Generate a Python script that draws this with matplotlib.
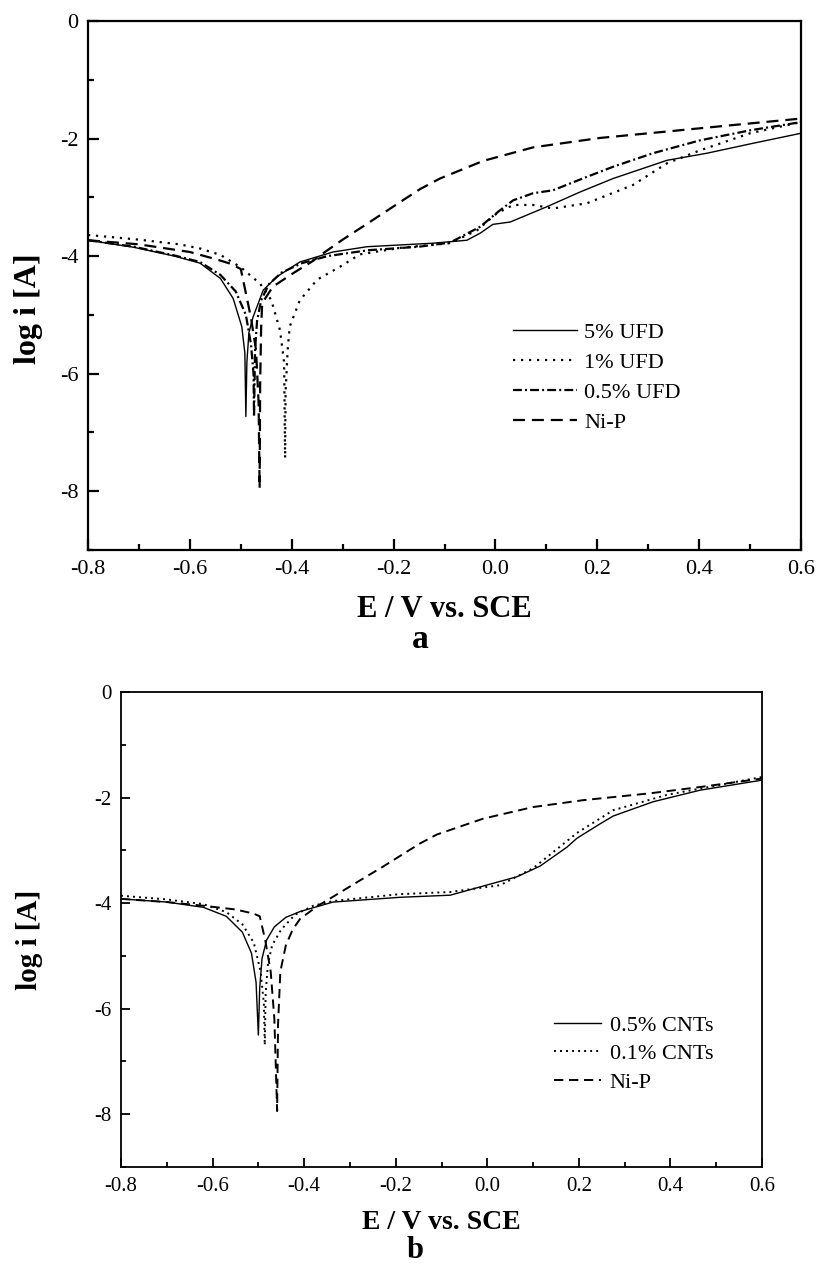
import matplotlib
matplotlib.use('Agg')
import matplotlib.pyplot as plt
from matplotlib.ticker import MultipleLocator

plt.rcParams['font.family'] = ['Liberation Serif', 'DejaVu Serif']
plt.rcParams['axes.unicode_minus'] = False

# ---- panel a : UFD coatings ----
ufd5_E = [-0.80, -0.71, -0.63, -0.58, -0.54, -0.515, -0.498, -0.492, -0.490, -0.488, -0.484, -0.476,
          -0.456, -0.429, -0.384, -0.319, -0.252, -0.187, -0.122, -0.056, -0.030, -0.005, 0.029,
          0.101, 0.166, 0.231, 0.337, 0.415, 0.506, 0.600]
ufd5_I = [-3.73, -3.85, -4.00, -4.12, -4.38, -4.72, -5.20, -5.65, -6.73, -5.80, -5.30, -5.04,
          -4.58, -4.35, -4.10, -3.93, -3.84, -3.81, -3.78, -3.73, -3.61, -3.46, -3.42,
          -3.16, -2.91, -2.68, -2.37, -2.25, -2.08, -1.91]

ufd1_E = [-0.80, -0.70, -0.62, -0.58, -0.54, -0.50, -0.462, -0.44, -0.423, -0.415, -0.413, -0.412,
          -0.408, -0.404, -0.384, -0.35, -0.305, -0.266, -0.187, -0.089, -0.036, 0.003, 0.035,
          0.074, 0.113, 0.18, 0.27, 0.337, 0.402, 0.50, 0.60]
ufd1_I = [-3.64, -3.72, -3.80, -3.87, -3.98, -4.19, -4.47, -4.75, -5.26, -5.80, -7.44, -6.30,
          -5.60, -5.20, -4.75, -4.40, -4.18, -3.97, -3.86, -3.78, -3.56, -3.27, -3.13,
          -3.13, -3.19, -3.10, -2.79, -2.42, -2.20, -1.91, -1.72]

ufd05_E = [-0.80, -0.71, -0.63, -0.58, -0.54, -0.51, -0.49, -0.48, -0.475, -0.474, -0.472, -0.468,
           -0.46, -0.445, -0.42, -0.38, -0.33, -0.25, -0.15, -0.089, -0.03, 0.009, 0.035,
           0.074, 0.113, 0.18, 0.231, 0.309, 0.402, 0.50, 0.60]
ufd05_I = [-3.73, -3.84, -3.99, -4.10, -4.32, -4.60, -5.00, -5.50, -6.00, -6.73, -5.60, -5.10,
           -4.75, -4.48, -4.28, -4.12, -4.00, -3.90, -3.84, -3.77, -3.50, -3.22, -3.05,
           -2.93, -2.88, -2.65, -2.48, -2.25, -2.03, -1.86, -1.72]

nip_a_E = [-0.80, -0.70, -0.60, -0.55, -0.52, -0.50, -0.49, -0.48, -0.47, -0.465, -0.463, -0.462,
           -0.46, -0.458, -0.437, -0.397, -0.358, -0.338, -0.30, -0.252, -0.187, -0.148, -0.109,
           -0.024, 0.074, 0.205, 0.337, 0.467, 0.60]
nip_a_I = [-3.73, -3.80, -3.93, -4.05, -4.13, -4.22, -4.63, -5.05, -5.60, -6.50, -7.95, -6.20,
           -5.20, -4.80, -4.52, -4.29, -4.08, -3.95, -3.72, -3.45, -3.08, -2.86, -2.68,
           -2.38, -2.15, -1.99, -1.88, -1.77, -1.66]

# ---- panel b : CNT coatings ----
cnt05_E = [-0.80, -0.70, -0.62, -0.57, -0.535, -0.515, -0.505, -0.500, -0.497, -0.492, -0.482,
           -0.465, -0.44, -0.409, -0.337, -0.191, -0.081, -0.027, 0.065, 0.115, 0.174, 0.196,
           0.246, 0.275, 0.362, 0.465, 0.60]
cnt05_I = [-3.92, -3.98, -4.08, -4.25, -4.55, -4.95, -5.50, -6.50, -5.60, -5.05, -4.70,
           -4.45, -4.27, -4.16, -3.98, -3.89, -3.85, -3.72, -3.50, -3.30, -2.94, -2.77,
           -2.50, -2.35, -2.08, -1.86, -1.67]

cnt01_E = [-0.80, -0.70, -0.62, -0.57, -0.535, -0.51, -0.495, -0.488, -0.486, -0.484, -0.479,
           -0.47, -0.45, -0.42, -0.38, -0.337, -0.191, -0.081, 0.028, 0.10, 0.196, 0.275,
           0.392, 0.60]
cnt01_I = [-3.86, -3.93, -4.02, -4.17, -4.40, -4.75, -5.30, -5.90, -6.69, -5.70, -5.15,
           -4.80, -4.50, -4.22, -4.05, -3.96, -3.83, -3.79, -3.66, -3.34, -2.67, -2.24,
           -1.95, -1.61]

nip_b_E = [-0.80, -0.70, -0.62, -0.55, -0.51, -0.497, -0.485, -0.473, -0.465, -0.459, -0.457,
           -0.452, -0.44, -0.425, -0.409, -0.37, -0.337, -0.28, -0.228, -0.147, -0.11, -0.009,
           0.10, 0.209, 0.355, 0.465, 0.60]
nip_b_I = [-3.92, -3.98, -4.05, -4.12, -4.20, -4.25, -4.70, -5.30, -6.20, -7.94, -6.30,
           -5.30, -4.80, -4.50, -4.30, -4.05, -3.88, -3.58, -3.31, -2.87, -2.70, -2.40,
           -2.18, -2.05, -1.92, -1.80, -1.64]

labels_a = ['5% UFD', '1% UFD', '0.5% UFD', 'Ni-P']
labels_b = ['0.5% CNTs', '0.1% CNTs', 'Ni-P']

fig = plt.figure(figsize=(8.17, 12.65), dpi=100)
ax1 = fig.add_axes([88/817, 1-550/1265, 713/817, 529/1265])
ax2 = fig.add_axes([121/817, 1-1167/1265, 641/817, 475/1265])

# panel a
ax1.plot(ufd5_E, ufd5_I, color='black', lw=1.0, ls='-', label=labels_a[0])
ax1.plot(ufd1_E, ufd1_I, color='black', lw=1.6, ls=(0, (1, 2.6)), label=labels_a[1])
ax1.plot(ufd05_E, ufd05_I, color='black', lw=1.6, ls=(0, (4, 1.4, 0.9, 1.4)), label=labels_a[2])
ax1.plot(nip_a_E, nip_a_I, color='black', lw=1.6, ls=(0, (5.4, 3.1)), label=labels_a[3])

# panel b
ax2.plot(cnt05_E, cnt05_I, color='black', lw=1.0, ls='-', label=labels_b[0])
ax2.plot(cnt01_E, cnt01_I, color='black', lw=1.4, ls=(0, (1, 2.1)), label=labels_b[1])
ax2.plot(nip_b_E, nip_b_I, color='black', lw=1.4, ls=(0, (4.8, 2.9)), label=labels_b[2])

for ax, big, tl, sw in [(ax1, True, 16, 1.6), (ax2, False, 15, 1.3)]:
    ax.set_xlim(-0.8, 0.6)
    ax.set_ylim(-9, 0)
    ax.xaxis.set_major_locator(MultipleLocator(0.2))
    ax.xaxis.set_minor_locator(MultipleLocator(0.1))
    ax.yaxis.set_major_locator(MultipleLocator(2))
    ax.yaxis.set_minor_locator(MultipleLocator(1))
    ax.xaxis.set_major_formatter(matplotlib.ticker.FormatStrFormatter('%.1f'))
    ax.yaxis.set_major_formatter(matplotlib.ticker.FormatStrFormatter('%d'))
    for s in ax.spines.values():
        s.set_linewidth(sw)
    ax.tick_params(which='major', direction='in', length=8 if big else 6.5, width=sw,
                   labelsize=tl, pad=7)
    ax.tick_params(which='minor', direction='in', length=4.3 if big else 3.6, width=sw)

ax1.set_xlabel('E / V vs. SCE', fontsize=22, fontweight='bold')
ax1.set_ylabel('log i [A]', fontsize=23, fontweight='bold')
ax1.xaxis.set_label_coords(0.5, -0.085)
ax1.yaxis.set_label_coords(-0.063, 0.457)

ax2.set_xlabel('E / V vs. SCE', fontsize=20, fontweight='bold')
ax2.set_ylabel('log i [A]', fontsize=21, fontweight='bold')
ax2.xaxis.set_label_coords(0.5, -0.09)
ax2.yaxis.set_label_coords(-0.122, 0.478)

fig.text(420/817, 1-640/1265, 'a', fontsize=24, fontweight='bold', ha='center', va='center')
fig.text(415/817, 1-1250/1265, 'b', fontsize=22, fontweight='bold', ha='center', va='center')

ax1.legend(loc='upper left', bbox_to_anchor=((513-88)/713, 1-(322-21)/529), frameon=False,
           fontsize=16, handlelength=2.9, handletextpad=0.3, labelspacing=0.43,
           borderpad=0, borderaxespad=0)
ax2.legend(loc='upper left', bbox_to_anchor=((554-121)/641, 1-(1015-692)/475), frameon=False,
           fontsize=16, handlelength=2.1, handletextpad=0.4, labelspacing=0.36,
           borderpad=0, borderaxespad=0)

fig.savefig('out.png', dpi=100)
